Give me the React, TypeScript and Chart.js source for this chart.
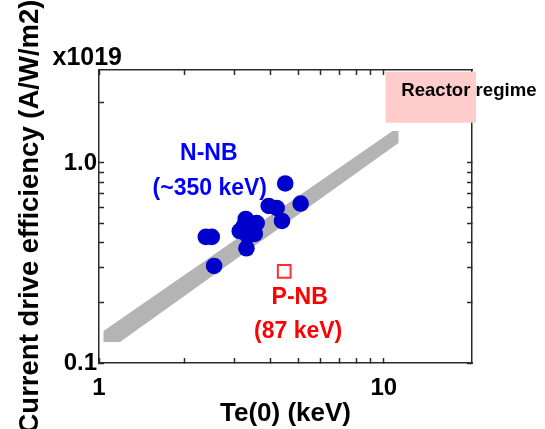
import React, { useEffect, useRef } from 'react';
import { Chart, registerables } from 'chart.js';

Chart.register(...registerables);

// N-NB measurements (Te(0) in keV, efficiency in 1e19 A/W/m2)
const nnbTe = [4.507, 5.105, 3.945, 4.206, 4.39, 2.371, 2.489, 3.275, 3.579, 3.12, 3.329, 3.494, 3.223, 3.523, 3.294, 2.536];
const nnbEff = [0.79, 0.627, 0.61, 0.596, 0.513, 0.427, 0.427, 0.525, 0.501, 0.457, 0.4315, 0.462, 0.484, 0.442, 0.3746, 0.3055];

// P-NB measurement
const pnbTe = [4.47];
const pnbEff = [0.287];

// Gray scaling band (outline)
const bandTe = [1.037, 10.73, 11.26, 11.26, 1.185, 1.037, 1.037];
const bandEff = [0.1445, 1.445, 1.445, 1.259, 0.1274, 0.1274, 0.1445];

// Reactor regime box (centre line, from / to)
const reactorTe = [10.14, 21.08];
const reactorEff = [2.133, 2.133];

const xTickValues = [1, 2, 3, 4, 5, 6, 7, 8, 9, 10];
const yTickValues = [0.1, 0.2, 0.3, 0.4, 0.5, 0.6, 0.7, 0.8, 0.9, 1, 2];
const xTickLabels = ['1', '', '', '', '', '', '', '', '', '10'];
const yTickLabels = ['0.1', '', '', '', '', '', '', '', '', '1.0', ''];

const notes = [
  { text: 'N-NB', x: 2.43, y: 1.109, color: '#0000ff' },
  { text: '(~350 keV)', x: 2.449, y: 0.741, color: '#0000ff' },
  { text: 'P-NB', x: 5.065, y: 0.2126, color: '#ff0000' },
  { text: '(87 keV)', x: 5.004, y: 0.1429, color: '#ff0000' },
];
const reactorNote = { text: 'Reactor regime', x: 11.51, y: 2.163 };
const multiplierText = 'x1019';

const FONT = "'Liberation Sans', Arial, Helvetica, sans-serif";
const AXIS_COLOR = '#2a2a2a';

const zip = (xs: number[], ys: number[]) => xs.map((v, i) => ({ x: v, y: ys[i] }));

const notesPlugin = {
  id: 'notes',
  afterDatasetsDraw(chart: any) {
    const { ctx, scales, chartArea } = chart;
    const xs = scales.x;
    const ys = scales.y;
    ctx.save();
    ctx.font = `bold 23px ${FONT}`;
    ctx.textAlign = 'center';
    ctx.textBaseline = 'middle';
    for (const n of notes) {
      ctx.fillStyle = n.color;
      ctx.fillText(n.text, xs.getPixelForValue(n.x), ys.getPixelForValue(n.y));
    }
    ctx.font = `bold 18.6px ${FONT}`;
    ctx.textAlign = 'left';
    ctx.textBaseline = 'alphabetic';
    ctx.fillStyle = '#000000';
    ctx.fillText(reactorNote.text, xs.getPixelForValue(reactorNote.x), ys.getPixelForValue(reactorNote.y));
    ctx.font = `bold 25px ${FONT}`;
    ctx.textAlign = 'right';
    ctx.fillText(multiplierText, chartArea.left + 23, chartArea.top - 5);
    ctx.restore();
  },
};

export default function App() {
  const ref = useRef<HTMLCanvasElement | null>(null);

  useEffect(() => {
    document.body.style.margin = '0';
    const canvas = ref.current;
    if (!canvas) return;

    const gridCommon = {
      display: true,
      drawOnChartArea: false,
      drawTicks: true,
      tickLength: -5,
      tickColor: AXIS_COLOR,
      tickWidth: 1.5,
    };
    const borderCommon = { display: true, color: AXIS_COLOR, width: 1.5 };

    const chart = new Chart(canvas, {
      type: 'scatter',
      data: {
        datasets: [
          {
            label: 'N-NB',
            data: zip(nnbTe, nnbEff),
            backgroundColor: '#0000cc',
            borderColor: '#0000cc',
            borderWidth: 0,
            pointRadius: 8.3,
            pointHoverRadius: 8.3,
          },
          {
            label: 'P-NB',
            data: zip(pnbTe, pnbEff),
            pointStyle: 'rect',
            backgroundColor: 'rgba(255,255,255,0)',
            borderColor: '#ff3030',
            borderWidth: 2,
            pointRadius: 9,
          },
          {
            type: 'line',
            label: 'band',
            data: zip(bandTe, bandEff),
            showLine: true,
            fill: 'shape',
            backgroundColor: '#b4b4b4',
            borderColor: 'rgba(0,0,0,0)',
            borderWidth: 0,
            pointRadius: 0,
            tension: 0,
          },
          {
            type: 'line',
            label: 'reactor',
            data: zip(reactorTe, reactorEff),
            showLine: true,
            fill: false,
            borderColor: '#ffcccc',
            borderWidth: 51,
            borderCapStyle: 'butt',
            pointRadius: 0,
            tension: 0,
            clip: false,
          },
        ] as any,
      },
      options: {
        animation: false,
        responsive: false,
        maintainAspectRatio: false,
        layout: { padding: { top: 70, right: 73, left: 0, bottom: 0 } },
        plugins: {
          legend: { display: false },
          tooltip: { enabled: false },
          title: { display: false },
        },
        font: { family: FONT },
        scales: {
          x: {
            type: 'logarithmic',
            position: 'bottom',
            min: 1,
            max: 20.4,
            afterBuildTicks: (s: any) => {
              s.ticks = xTickValues.map((v) => ({ value: v }));
            },
            afterFit: (s: any) => {
              s.height = 66;
            },
            grid: gridCommon,
            border: borderCommon,
            ticks: {
              autoSkip: false,
              maxRotation: 0,
              padding: 16,
              color: '#000000',
              font: { family: FONT, size: 24, weight: 'bold' },
              callback: (_v: any, i: number) => xTickLabels[i] ?? '',
            },
            title: {
              display: true,
              text: 'Te(0) (keV)',
              color: '#000000',
              font: { family: FONT, size: 26, weight: 'bold' },
              padding: { top: 0, bottom: 0 },
            },
          },
          y: {
            type: 'logarithmic',
            position: 'left',
            min: 0.1,
            max: 2.917,
            afterBuildTicks: (s: any) => {
              s.ticks = yTickValues.map((v) => ({ value: v }));
            },
            afterFit: (s: any) => {
              s.width = 99;
            },
            grid: gridCommon,
            border: borderCommon,
            ticks: {
              autoSkip: false,
              padding: 7,
              color: '#000000',
              font: { family: FONT, size: 24, weight: 'bold' },
              callback: (_v: any, i: number) => yTickLabels[i] ?? '',
            },
            title: {
              display: true,
              text: 'Current drive efficiency (A/W/m2)',
              color: '#000000',
              font: { family: FONT, size: 27.5, weight: 'bold' },
              padding: { top: 14, bottom: 0 },
            },
          },
          xTop: {
            type: 'logarithmic',
            position: 'top',
            min: 1,
            max: 20.4,
            afterBuildTicks: (s: any) => {
              s.ticks = xTickValues.map((v) => ({ value: v }));
            },
            afterFit: (s: any) => {
              s.height = 0;
            },
            grid: gridCommon,
            border: borderCommon,
            ticks: { display: false, autoSkip: false },
          },
          yRight: {
            type: 'logarithmic',
            position: 'right',
            min: 0.1,
            max: 2.917,
            z: 1,
            afterBuildTicks: (s: any) => {
              s.ticks = yTickValues.map((v) => ({ value: v }));
            },
            afterFit: (s: any) => {
              s.width = 0;
            },
            grid: gridCommon,
            border: borderCommon,
            ticks: { display: false, autoSkip: false },
          },
        },
      } as any,
      plugins: [notesPlugin],
    });

    return () => chart.destroy();
  }, []);

  return (
    <div style={{ width: 545, height: 429, position: 'relative' }}>
      <canvas ref={ref} width={545} height={429} style={{ display: 'block' }} />
    </div>
  );
}
